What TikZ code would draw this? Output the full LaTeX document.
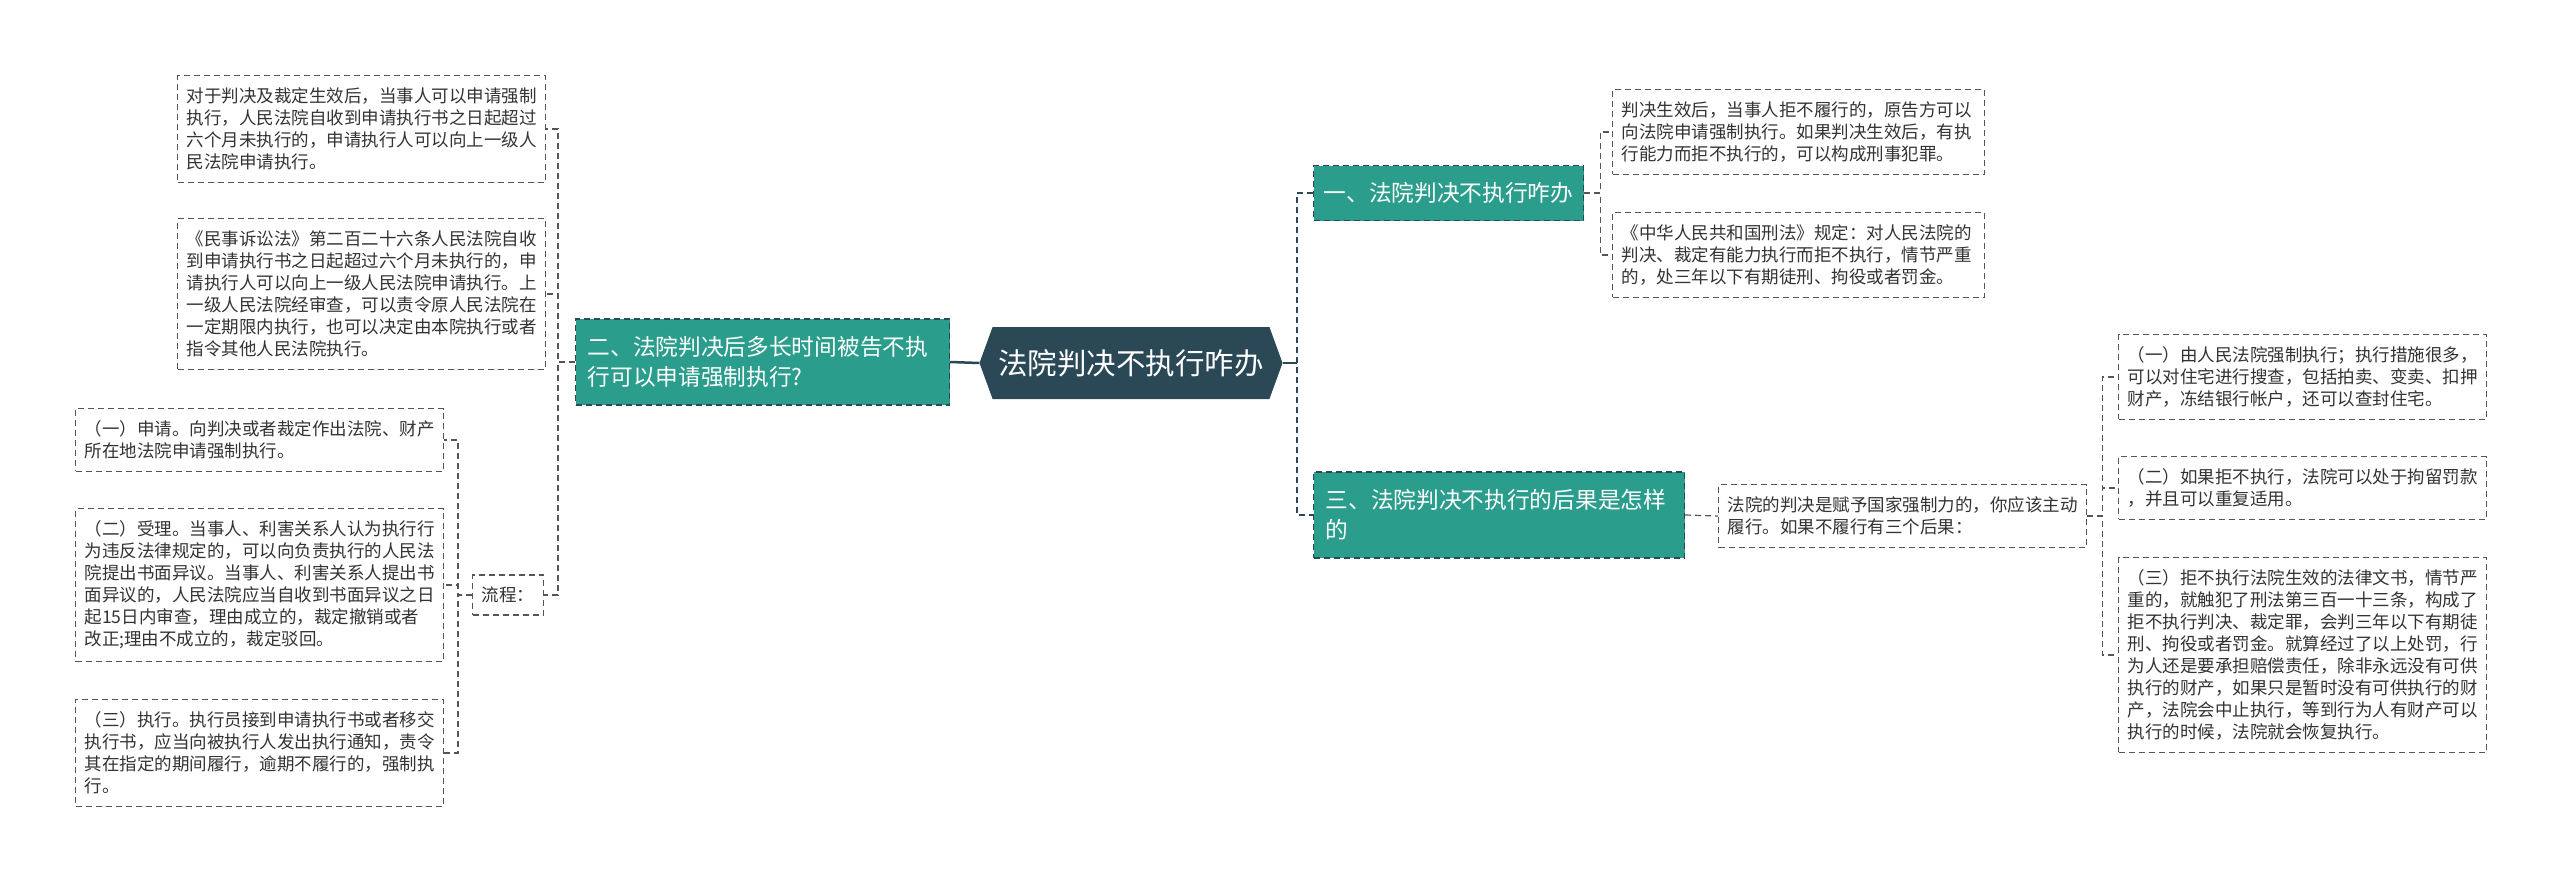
\documentclass[tikz,border=0pt]{standalone}
\usepackage{fontspec}
\newfontfamily\cjk{Noto Sans CJK SC}
\usetikzlibrary{shapes.symbols}
\definecolor{teal1}{HTML}{2A9D8C}
\definecolor{dark1}{HTML}{2B4857}
\definecolor{txt}{HTML}{333333}
\definecolor{dline}{HTML}{555555}
\begin{document}
\begin{tikzpicture}[x=1pt,y=-1pt,
 leaf/.style={draw=dline, line width=1.2pt, dash pattern=on 6pt off 4pt, fill=white, text=txt,
   font=\cjk\fontsize{17.5}{22}\selectfont, text width=350pt, inner xsep=9pt, inner ysep=12pt,
   align=left, anchor=west},
 branch/.style={draw=dark1, line width=1.2pt, dash pattern=on 6pt off 4pt, fill=teal1, text=white,
   font=\cjk\fontsize{22.7}{30}\selectfont, inner xsep=12pt, inner ysep=10pt, align=left, anchor=west},
 root/.style={signal, signal to=east and west, signal pointer angle=140, fill=dark1, text=white,
   font=\cjk\fontsize{29.5}{34}\selectfont, minimum width=303pt, minimum height=72pt, inner xsep=4pt},
 mainline/.style={draw=dark1, line width=2.5pt},
 maindash/.style={draw=dark1, line width=2.5pt, dash pattern=on 6pt off 4pt},
 sub/.style={draw=dline, line width=1.2pt, dash pattern=on 6pt off 4pt}
]
\useasboundingbox[fill=white] (0,0) rectangle (2560,881);

\node[root] (c) at (1131,363) {法院判决不执行咋办};

\node[branch, text width=350pt, minimum height=86pt] (b2) at (575,362) {二、法院判决后多长时间被告不执\\行可以申请强制执行?};
\node[branch, text width=250pt, minimum height=55pt, inner xsep=10pt] (b1) at (1313,193) {一、法院判决不执行咋办};
\node[branch, text width=347pt, minimum height=86pt] (b3) at (1313,515) {三、法院判决不执行的后果是怎样\\的};

\node[leaf] (a1) at (177,129) {对于判决及裁定生效后，当事人可以申请强制\\执行，人民法院自收到申请执行书之日起超过\\六个月未执行的，申请执行人可以向上一级人\\民法院申请执行。};
\node[leaf] (a2) at (177,294) {《民事诉讼法》第二百二十六条人民法院自收\\到申请执行书之日起超过六个月未执行的，申\\请执行人可以向上一级人民法院申请执行。上\\一级人民法院经审查，可以责令原人民法院在\\一定期限内执行，也可以决定由本院执行或者\\指令其他人民法院执行。};
\node[leaf, text width=53pt] (lc) at (472,595) {流程：};
\node[leaf] (l1) at (75,440) {（一）申请。向判决或者裁定作出法院、财产\\所在地法院申请强制执行。};
\node[leaf] (l2) at (75,585) {（二）受理。当事人、利害关系人认为执行行\\为违反法律规定的，可以向负责执行的人民法\\院提出书面异议。当事人、利害关系人提出书\\面异议的，人民法院应当自收到书面异议之日\\起15日内审查，理由成立的，裁定撤销或者\\改正;理由不成立的，裁定驳回。};
\node[leaf] (l3) at (75,753) {（三）执行。执行员接到申请执行书或者移交\\执行书，应当向被执行人发出执行通知，责令\\其在指定的期间履行，逾期不履行的，强制执\\行。};

\node[leaf, text width=354pt] (r1) at (1612,132) {判决生效后，当事人拒不履行的，原告方可以\\向法院申请强制执行。如果判决生效后，有执\\行能力而拒不执行的，可以构成刑事犯罪。};
\node[leaf, text width=354pt] (r2) at (1612,255) {《中华人民共和国刑法》规定：对人民法院的\\判决、裁定有能力执行而拒不执行，情节严重\\的，处三年以下有期徒刑、拘役或者罚金。};
\node[leaf] (m3) at (1718,516) {法院的判决是赋予国家强制力的，你应该主动\\履行。如果不履行有三个后果：};
\node[leaf] (r3a) at (2118,377) {（一）由人民法院强制执行；执行措施很多，\\可以对住宅进行搜查，包括拍卖、变卖、扣押\\财产，冻结银行帐户，还可以查封住宅。};
\node[leaf] (r3b) at (2118,488) {（二）如果拒不执行，法院可以处于拘留罚款\\，并且可以重复适用。};
\node[leaf] (r3c) at (2118,655) {（三）拒不执行法院生效的法律文书，情节严\\重的，就触犯了刑法第三百一十三条，构成了\\拒不执行判决、裁定罪，会判三年以下有期徒\\刑、拘役或者罚金。就算经过了以上处罚，行\\为人还是要承担赔偿责任，除非永远没有可供\\执行的财产，如果只是暂时没有可供执行的财\\产，法院会中止执行，等到行为人有财产可以\\执行的时候，法院就会恢复执行。};

% main connectors
\draw[mainline] (c.west) -- (b2.east);
\draw[mainline] (c.east) -- ++(14,0) coordinate (rj);
\draw[maindash] (b1.west) -- ++(-16,0) |- (b3.west);

% sub connectors right
\draw[sub] (b1.east) -- ++(16,0) |- (r1.west);
\draw[sub] (b1.east) -- ++(16,0) |- (r2.west);
\draw[sub] (b3.east) -- (m3.west);
\draw[sub] (m3.east) -- ++(15,0) |- (r3a.west);
\draw[sub] (m3.east) -- ++(15,0) |- (r3b.west);
\draw[sub] (m3.east) -- ++(15,0) |- (r3c.west);

% sub connectors left
\draw[sub] (b2.west) -- ++(-17,0) |- (a1.east);
\draw[sub] (b2.west) -- ++(-17,0) |- (a2.east);
\draw[sub] (b2.west) -- ++(-17,0) |- (lc.east);
\draw[sub] (lc.west) -- ++(-14,0) |- (l1.east);
\draw[sub] (lc.west) -- ++(-14,0) |- (l2.east);
\draw[sub] (lc.west) -- ++(-14,0) |- (l3.east);
\end{tikzpicture}
\end{document}
